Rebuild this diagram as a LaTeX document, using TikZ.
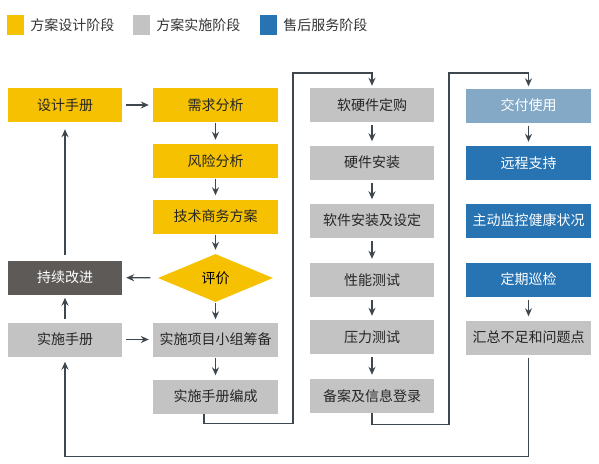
\documentclass[tikz,border=0pt]{standalone}
\usepackage{fontspec}
\setmainfont{Noto Sans CJK SC}
\usetikzlibrary{shapes.geometric,arrows.meta,positioning}

\definecolor{planyellow}{HTML}{F5C100}
\definecolor{workgray}{HTML}{C3C3C3}
\definecolor{servblue}{HTML}{2873B2}
\definecolor{paleblue}{HTML}{84A9C6}
\definecolor{darkbox}{HTML}{5D5A58}
\definecolor{linkgray}{HTML}{3F474E}
\definecolor{legtext}{HTML}{333333}

\tikzset{
	box/.style={minimum height=34pt,inner sep=0pt,text=black!85,font=\fontsize{14}{15}\selectfont},
	plan/.style={box,fill=planyellow},
	work/.style={box,fill=workgray},
	serv/.style={box,fill=servblue,text=white},
	link/.style={line width=1.4pt,draw=linkgray,-{Stealth[length=8pt,width=7pt]}},
	key/.style={minimum width=17pt,minimum height=20pt,inner sep=0pt},
	keytext/.style={inner sep=0pt,text=legtext,font=\fontsize{14}{15}\selectfont}
}

\begin{document}
\begin{tikzpicture}[x=1pt,y=-1pt]
	\useasboundingbox (0,0) rectangle (599,463);

	% legend
	\node[key,fill=planyellow] (keyplan) at (15.5,25) {};
	\node[keytext,right=6pt of keyplan] (txtplan) {方案设计阶段};
	\node[key,fill=workgray] (keywork) at (141.5,25) {};
	\node[keytext,right=6pt of keywork] (txtwork) {方案实施阶段};
	\node[key,fill=servblue] (keyserv) at (268.5,25) {};
	\node[keytext,right=6pt of keyserv] (txtserv) {售后服务阶段};

	% first column
	\node[plan,minimum width=114pt] (design) at (65,105) {设计手册};
	\node[box,fill=darkbox,text=white,minimum width=114pt] (improve) at (65,277.5) {持续改进};
	\node[work,minimum width=114pt] (manual) at (65,339.5) {实施手册};

	% second column
	\node[plan,minimum width=125pt] (demand) at (215.5,105) {需求分析};
	\node[plan,minimum width=125pt] (risk) at (215.5,161) {风险分析};
	\node[plan,minimum width=125pt] (tech) at (215.5,216.5) {技术商务方案};
	\node[diamond,fill=planyellow,inner sep=0pt,minimum width=115pt,minimum height=48pt,font=\fontsize{14}{15}\selectfont] (review) at (215.5,278) {评价};
	\node[work,minimum width=125pt] (team) at (215.5,339.5) {实施项目小组筹备};
	\node[work,minimum width=125pt] (compile) at (215.5,396.5) {实施手册编成};

	% third column
	\node[work,minimum width=124pt] (order) at (372,105) {软硬件定购};
	\node[work,minimum width=124pt] (hwinst) at (372,162.5) {硬件安装};
	\node[work,minimum width=124pt] (swinst) at (372,220.5) {软件安装及设定};
	\node[work,minimum width=124pt] (perf) at (372,280) {性能测试};
	\node[work,minimum width=124pt] (stress) at (372,337) {压力测试};
	\node[work,minimum width=124pt] (record) at (372,396) {备案及信息登录};

	% fourth column
	\node[serv,fill=paleblue,minimum width=125pt] (deliver) at (528.5,105.5) {交付使用};
	\node[serv,minimum width=125pt] (remote) at (528.5,163) {远程支持};
	\node[serv,minimum width=125pt] (monitor) at (528.5,220.5) {主动监控健康状况};
	\node[serv,minimum width=125pt] (inspect) at (528.5,279.5) {定期巡检};
	\node[work,minimum width=125pt] (summary) at (528.5,337.5) {汇总不足和问题点};

	% arrows
	\draw[link,shorten <=4pt,shorten >=4pt] (design) -- (demand);
	\draw[link,shorten <=8pt,shorten >=4pt] (review) -- (improve);
	\draw[link,shorten <=4pt,shorten >=4pt] (manual) -- (team);
	\draw[link,shorten <=5pt,shorten >=7pt] (improve) -- (design);
	\draw[link,shorten <=3pt,shorten >=3pt] (manual) -- (improve);
	\draw[link,shorten <=1pt,shorten >=4pt] (demand) -- (risk);
	\draw[link,shorten <=1pt,shorten >=4pt] (risk) -- (tech);
	\draw[link,shorten <=1pt,shorten >=4pt] (tech) -- (review);
	\draw[link,shorten <=1pt,shorten >=3pt] (review) -- (team);
	\draw[link,shorten <=1pt,shorten >=4pt] (team) -- (compile);
	\draw[link,shorten <=3pt,shorten >=4pt] (order) -- (hwinst);
	\draw[link,shorten <=3pt,shorten >=4pt] (hwinst) -- (swinst);
	\draw[link,shorten <=3pt,shorten >=4pt] (swinst) -- (perf);
	\draw[link,shorten <=3pt,shorten >=4pt] (perf) -- (stress);
	\draw[link,shorten <=3pt,shorten >=4pt] (stress) -- (record);
	\draw[link,shorten <=3pt,shorten >=4pt] (deliver) -- (remote);
	\draw[link,shorten <=3pt,shorten >=4pt] (inspect) -- (summary);

	% return lines
	\draw[link,shorten >=2pt] ([xshift=-11.5pt]compile.south) -- ++(0,10) -| (293,73) -| (order.north);
	\draw[link,shorten >=2pt] (record.south) -- ++(0,11) -| (449,73) -| (deliver.north);
	\draw[link,shorten <=3pt,shorten >=5pt] (summary.south) -- ++(0,101.5) -| (manual.south);
\end{tikzpicture}
\end{document}
